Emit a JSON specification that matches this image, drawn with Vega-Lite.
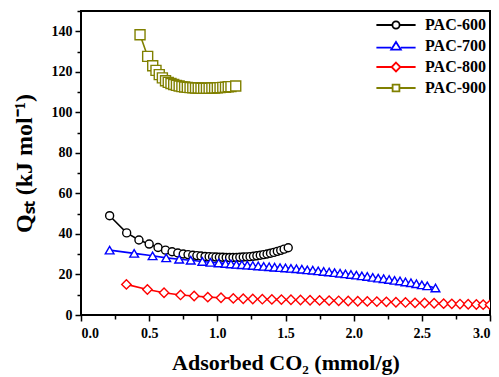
{
  "$schema": "https://vega.github.io/schema/vega-lite/v6.json",
  "width": 409,
  "height": 304,
  "autosize": "none",
  "padding": {"left": 81, "top": 11, "right": 9, "bottom": 62},
  "background": "white",
  "config": {
    "view": {"stroke": "black", "strokeWidth": 2},
    "font": "Liberation Serif",
    "axis": {
      "domain": false,
      "grid": false,
      "labelFont": "Liberation Serif",
      "labelFontWeight": "bold",
      "labelFontSize": 14,
      "labelColor": "black",
      "tickColor": "black",
      "tickWidth": 1.5,
      "titleFont": "Liberation Serif",
      "titleFontWeight": "bold",
      "titleFontSize": 22,
      "titleColor": "black"
    },
    "legend": {
      "labelFont": "Liberation Serif",
      "labelFontWeight": "bold",
      "labelFontSize": 16,
      "labelColor": "black"
    }
  },
  "data": {
    "values": [
      {"sample": "PAC-600", "x": 0.21, "q": 49.0},
      {"sample": "PAC-600", "x": 0.335, "q": 40.5},
      {"sample": "PAC-600", "x": 0.425, "q": 37.0},
      {"sample": "PAC-600", "x": 0.5, "q": 35.0},
      {"sample": "PAC-600", "x": 0.565, "q": 33.3},
      {"sample": "PAC-600", "x": 0.62, "q": 32.0},
      {"sample": "PAC-600", "x": 0.668, "q": 31.2},
      {"sample": "PAC-600", "x": 0.71, "q": 30.6},
      {"sample": "PAC-600", "x": 0.75, "q": 30.1},
      {"sample": "PAC-600", "x": 0.785, "q": 29.8},
      {"sample": "PAC-600", "x": 0.82, "q": 29.5},
      {"sample": "PAC-600", "x": 0.85, "q": 29.3},
      {"sample": "PAC-600", "x": 0.88, "q": 29.1},
      {"sample": "PAC-600", "x": 0.91, "q": 28.9},
      {"sample": "PAC-600", "x": 0.94, "q": 28.8},
      {"sample": "PAC-600", "x": 0.965, "q": 28.7},
      {"sample": "PAC-600", "x": 0.99, "q": 28.6},
      {"sample": "PAC-600", "x": 1.015, "q": 28.5},
      {"sample": "PAC-600", "x": 1.04, "q": 28.5},
      {"sample": "PAC-600", "x": 1.065, "q": 28.4},
      {"sample": "PAC-600", "x": 1.09, "q": 28.4},
      {"sample": "PAC-600", "x": 1.115, "q": 28.4},
      {"sample": "PAC-600", "x": 1.14, "q": 28.4},
      {"sample": "PAC-600", "x": 1.165, "q": 28.5},
      {"sample": "PAC-600", "x": 1.19, "q": 28.6},
      {"sample": "PAC-600", "x": 1.215, "q": 28.7},
      {"sample": "PAC-600", "x": 1.24, "q": 28.8},
      {"sample": "PAC-600", "x": 1.265, "q": 29.0},
      {"sample": "PAC-600", "x": 1.29, "q": 29.2},
      {"sample": "PAC-600", "x": 1.315, "q": 29.5},
      {"sample": "PAC-600", "x": 1.34, "q": 29.8},
      {"sample": "PAC-600", "x": 1.365, "q": 30.1},
      {"sample": "PAC-600", "x": 1.39, "q": 30.5},
      {"sample": "PAC-600", "x": 1.415, "q": 30.9},
      {"sample": "PAC-600", "x": 1.44, "q": 31.4},
      {"sample": "PAC-600", "x": 1.465, "q": 31.9},
      {"sample": "PAC-600", "x": 1.49, "q": 32.5},
      {"sample": "PAC-600", "x": 1.52, "q": 33.2},

      {"sample": "PAC-700", "x": 0.21, "q": 32.0},
      {"sample": "PAC-700", "x": 0.39, "q": 30.4},
      {"sample": "PAC-700", "x": 0.525, "q": 29.2},
      {"sample": "PAC-700", "x": 0.625, "q": 28.2},
      {"sample": "PAC-700", "x": 0.72, "q": 27.5},
      {"sample": "PAC-700", "x": 0.805, "q": 27.0},
      {"sample": "PAC-700", "x": 0.89, "q": 26.4},
      {"sample": "PAC-700", "x": 0.95, "q": 26.0},
      {"sample": "PAC-700", "x": 1.01, "q": 25.7},
      {"sample": "PAC-700", "x": 1.06, "q": 25.4},
      {"sample": "PAC-700", "x": 1.1, "q": 25.2},
      {"sample": "PAC-700", "x": 1.14, "q": 25.0},
      {"sample": "PAC-700", "x": 1.18, "q": 24.8},
      {"sample": "PAC-700", "x": 1.22, "q": 24.6},
      {"sample": "PAC-700", "x": 1.26, "q": 24.4},
      {"sample": "PAC-700", "x": 1.3, "q": 24.2},
      {"sample": "PAC-700", "x": 1.34, "q": 24.0},
      {"sample": "PAC-700", "x": 1.38, "q": 23.8},
      {"sample": "PAC-700", "x": 1.42, "q": 23.6},
      {"sample": "PAC-700", "x": 1.46, "q": 23.4},
      {"sample": "PAC-700", "x": 1.5, "q": 23.2},
      {"sample": "PAC-700", "x": 1.54, "q": 23.0},
      {"sample": "PAC-700", "x": 1.58, "q": 22.8},
      {"sample": "PAC-700", "x": 1.62, "q": 22.6},
      {"sample": "PAC-700", "x": 1.66, "q": 22.3},
      {"sample": "PAC-700", "x": 1.7, "q": 22.1},
      {"sample": "PAC-700", "x": 1.74, "q": 21.8},
      {"sample": "PAC-700", "x": 1.78, "q": 21.5},
      {"sample": "PAC-700", "x": 1.82, "q": 21.2},
      {"sample": "PAC-700", "x": 1.86, "q": 20.9},
      {"sample": "PAC-700", "x": 1.9, "q": 20.6},
      {"sample": "PAC-700", "x": 1.94, "q": 20.3},
      {"sample": "PAC-700", "x": 1.98, "q": 20.0},
      {"sample": "PAC-700", "x": 2.02, "q": 19.7},
      {"sample": "PAC-700", "x": 2.06, "q": 19.3},
      {"sample": "PAC-700", "x": 2.1, "q": 19.0},
      {"sample": "PAC-700", "x": 2.14, "q": 18.6},
      {"sample": "PAC-700", "x": 2.18, "q": 18.2},
      {"sample": "PAC-700", "x": 2.22, "q": 17.9},
      {"sample": "PAC-700", "x": 2.26, "q": 17.5},
      {"sample": "PAC-700", "x": 2.3, "q": 17.1},
      {"sample": "PAC-700", "x": 2.34, "q": 16.8},
      {"sample": "PAC-700", "x": 2.38, "q": 16.3},
      {"sample": "PAC-700", "x": 2.42, "q": 15.9},
      {"sample": "PAC-700", "x": 2.46, "q": 15.4},
      {"sample": "PAC-700", "x": 2.5, "q": 14.9},
      {"sample": "PAC-700", "x": 2.54, "q": 14.4},
      {"sample": "PAC-700", "x": 2.6, "q": 13.3},

      {"sample": "PAC-800", "x": 0.333, "q": 15.1},
      {"sample": "PAC-800", "x": 0.487, "q": 12.6},
      {"sample": "PAC-800", "x": 0.609, "q": 11.0},
      {"sample": "PAC-800", "x": 0.73, "q": 9.9},
      {"sample": "PAC-800", "x": 0.83, "q": 9.4},
      {"sample": "PAC-800", "x": 0.93, "q": 8.8},
      {"sample": "PAC-800", "x": 1.027, "q": 8.5},
      {"sample": "PAC-800", "x": 1.117, "q": 8.2},
      {"sample": "PAC-800", "x": 1.19, "q": 8.0},
      {"sample": "PAC-800", "x": 1.26, "q": 7.9},
      {"sample": "PAC-800", "x": 1.33, "q": 7.8},
      {"sample": "PAC-800", "x": 1.4, "q": 7.7},
      {"sample": "PAC-800", "x": 1.47, "q": 7.6},
      {"sample": "PAC-800", "x": 1.54, "q": 7.5},
      {"sample": "PAC-800", "x": 1.61, "q": 7.4},
      {"sample": "PAC-800", "x": 1.68, "q": 7.3},
      {"sample": "PAC-800", "x": 1.75, "q": 7.2},
      {"sample": "PAC-800", "x": 1.82, "q": 7.1},
      {"sample": "PAC-800", "x": 1.89, "q": 7.0},
      {"sample": "PAC-800", "x": 1.96, "q": 6.9},
      {"sample": "PAC-800", "x": 2.03, "q": 6.8},
      {"sample": "PAC-800", "x": 2.1, "q": 6.7},
      {"sample": "PAC-800", "x": 2.17, "q": 6.6},
      {"sample": "PAC-800", "x": 2.24, "q": 6.5},
      {"sample": "PAC-800", "x": 2.31, "q": 6.3},
      {"sample": "PAC-800", "x": 2.38, "q": 6.2},
      {"sample": "PAC-800", "x": 2.45, "q": 6.0},
      {"sample": "PAC-800", "x": 2.52, "q": 5.9},
      {"sample": "PAC-800", "x": 2.59, "q": 5.8},
      {"sample": "PAC-800", "x": 2.66, "q": 5.6},
      {"sample": "PAC-800", "x": 2.72, "q": 5.5},
      {"sample": "PAC-800", "x": 2.78, "q": 5.4},
      {"sample": "PAC-800", "x": 2.84, "q": 5.3},
      {"sample": "PAC-800", "x": 2.9, "q": 5.2},
      {"sample": "PAC-800", "x": 2.95, "q": 5.1},
      {"sample": "PAC-800", "x": 3.0, "q": 5.0},

      {"sample": "PAC-900", "x": 0.433, "q": 138.3},
      {"sample": "PAC-900", "x": 0.489, "q": 127.6},
      {"sample": "PAC-900", "x": 0.526, "q": 123.0},
      {"sample": "PAC-900", "x": 0.55, "q": 120.7},
      {"sample": "PAC-900", "x": 0.574, "q": 118.6},
      {"sample": "PAC-900", "x": 0.597, "q": 117.0},
      {"sample": "PAC-900", "x": 0.62, "q": 115.6},
      {"sample": "PAC-900", "x": 0.64, "q": 114.8},
      {"sample": "PAC-900", "x": 0.66, "q": 114.2},
      {"sample": "PAC-900", "x": 0.68, "q": 113.7},
      {"sample": "PAC-900", "x": 0.7, "q": 113.3},
      {"sample": "PAC-900", "x": 0.72, "q": 113.0},
      {"sample": "PAC-900", "x": 0.74, "q": 112.7},
      {"sample": "PAC-900", "x": 0.76, "q": 112.5},
      {"sample": "PAC-900", "x": 0.78, "q": 112.3},
      {"sample": "PAC-900", "x": 0.8, "q": 112.2},
      {"sample": "PAC-900", "x": 0.82, "q": 112.1},
      {"sample": "PAC-900", "x": 0.84, "q": 112.0},
      {"sample": "PAC-900", "x": 0.86, "q": 112.0},
      {"sample": "PAC-900", "x": 0.88, "q": 111.9},
      {"sample": "PAC-900", "x": 0.9, "q": 111.9},
      {"sample": "PAC-900", "x": 0.92, "q": 111.9},
      {"sample": "PAC-900", "x": 0.94, "q": 111.9},
      {"sample": "PAC-900", "x": 0.96, "q": 112.0},
      {"sample": "PAC-900", "x": 0.98, "q": 112.0},
      {"sample": "PAC-900", "x": 1.0, "q": 112.1},
      {"sample": "PAC-900", "x": 1.02, "q": 112.2},
      {"sample": "PAC-900", "x": 1.04, "q": 112.3},
      {"sample": "PAC-900", "x": 1.06, "q": 112.4},
      {"sample": "PAC-900", "x": 1.08, "q": 112.6},
      {"sample": "PAC-900", "x": 1.1, "q": 112.7},
      {"sample": "PAC-900", "x": 1.135, "q": 113.0}
    ]
  },
  "encoding": {
    "x": {
      "field": "x",
      "type": "quantitative",
      "scale": {"domain": [0, 3], "nice": false, "zero": false},
      "axis": {
        "title": "Adsorbed CO₂ (mmol/g)",
        "values": [0, 0.25, 0.5, 0.75, 1, 1.25, 1.5, 1.75, 2, 2.25, 2.5, 2.75, 3],
        "labelExpr": "datum.value % 0.5 === 0 ? format(datum.value, '.1f') : ''",
        "tickSize": {"condition": {"test": "datum.value % 0.5 === 0", "value": 6}, "value": 4},
        "labelPadding": 5,
        "titlePadding": 12
      }
    },
    "y": {
      "field": "q",
      "type": "quantitative",
      "scale": {"domain": [0, 150], "nice": false},
      "axis": {
        "title": "Qₛₜ (kJ mol⁻¹)",
        "titleFontSize": 24,
        "values": [0, 10, 20, 30, 40, 50, 60, 70, 80, 90, 100, 110, 120, 130, 140, 150],
        "labelExpr": "datum.value % 20 === 0 ? format(datum.value, 'd') : ''",
        "tickSize": {"condition": {"test": "datum.value % 20 === 0", "value": 6}, "value": 4},
        "labelPadding": 3,
        "titlePadding": 15
      }
    }
  },
  "resolve": {"scale": {"color": "independent"}},
  "layer": [
    {
      "mark": {"type": "line", "strokeWidth": 1.6, "clip": true},
      "encoding": {
        "order": {"field": "x", "type": "quantitative"},
        "color": {
          "field": "sample",
          "type": "nominal",
          "scale": {
            "domain": ["PAC-600", "PAC-700", "PAC-800", "PAC-900"],
            "range": ["#000000", "#0000ff", "#ff0000", "#808000"]
          },
          "legend": {
            "title": null,
            "orient": "none",
            "legendX": 307,
            "legendY": 6,
            "symbolSize": 64,
            "labelOffset": 21,
            "rowPadding": 5,
            "symbolStrokeWidth": 1.8,
            "encode": {
              "symbols": {
                "update": {
                  "fill": {"value": "white"},
                  "fillOpacity": {"value": 1},
                  "strokeWidth": {"value": 1.8},
                  "shape": {
                    "signal": "datum.value === 'PAC-600' ? 'M-4.9,0H-0.9M0.9,0A0.9,0.9 0 1,1 -0.9,0A0.9,0.9 0 1,1 0.9,0M0.9,0H4.9' : datum.value === 'PAC-700' ? 'M-4.9,0.4H-1.2M1.2,0.4H4.9M0,-1L1.2,0.9L-1.2,0.9Z' : datum.value === 'PAC-800' ? 'M-4.9,0H-1.1M1.1,0H4.9M0,-1.1L1.1,0L0,1.1L-1.1,0Z' : 'M-4.9,0H-0.85M0.85,0H4.9M-0.85,-0.85H0.85V0.85H-0.85Z'"
                  }
                }
              }
            }
          }
        }
      }
    },
    {
      "mark": {"type": "point", "filled": false, "fill": "white", "fillOpacity": 1, "strokeWidth": 1.4, "clip": true, "opacity": 1},
      "encoding": {
        "color": {
          "field": "sample",
          "type": "nominal",
          "scale": {
            "domain": ["PAC-600", "PAC-700", "PAC-800", "PAC-900"],
            "range": ["#000000", "#0000ff", "#ff0000", "#808000"]
          },
          "legend": null
        },
        "shape": {
          "field": "sample",
          "type": "nominal",
          "scale": {
            "domain": ["PAC-600", "PAC-700", "PAC-800", "PAC-900"],
            "range": ["circle", "triangle-up", "diamond", "square"]
          },
          "legend": null
        },
        "size": {
          "field": "sample",
          "type": "nominal",
          "scale": {
            "domain": ["PAC-600", "PAC-700", "PAC-800", "PAC-900"],
            "range": [64, 100, 90, 56]
          },
          "legend": null
        }
      }
    }
  ]
}
